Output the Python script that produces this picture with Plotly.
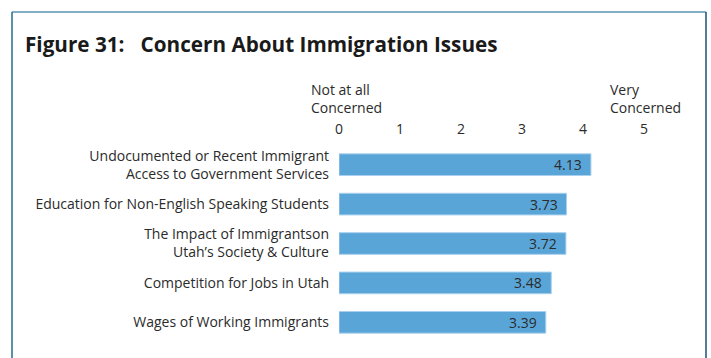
import plotly.graph_objects as go

# Survey items (top to bottom) and their mean concern scores (0-5 scale)
categories = [
    "Undocumented or Recent Immigrant<br>Access to Government Services",
    "Education for Non-English Speaking Students",
    "The Impact of Immigrantson<br>Utah\u2019s Society & Culture",
    "Competition for Jobs in Utah",
    "Wages of Working Immigrants",
]
scores = [4.13, 3.73, 3.72, 3.48, 3.39]
tick_values = [0, 1, 2, 3, 4, 5]
tick_labels = ["0", "1", "2", "3", "4", "5"]

W, H = 711, 358
ML, MR, MT, MB = 339, 0, 145, 16
FONT = "'Open Sans', Lato, sans-serif"
BAR = "#5aa5d8"
INK = "#2b2b2b"
FS = 14

px_per_unit = 61.0
x_max = (W - ML - MR) / px_per_unit


def px_x(p):
    return (p - ML) / (W - ML - MR)


def px_y(p):
    return 1 - (p - MT) / (H - MT - MB)


fig = go.Figure(
    go.Bar(
        x=scores,
        y=categories,
        orientation="h",
        marker=dict(color=BAR, line=dict(color="#a9d0ee", width=1)),
        width=0.55,
        hoverinfo="x+y",
    )
)

# Value labels just inside the bar ends
for cat, v in zip(categories, scores):
    fig.add_annotation(
        x=v, y=cat, xref="x", yref="y",
        text=f"{v:.2f}",
        xanchor="right", yanchor="middle",
        xshift=-7,
        showarrow=False,
        font=dict(family=FONT, size=FS, color=INK),
    )

fig.update_layout(
    width=W,
    height=H,
    margin=dict(l=ML, r=MR, t=MT, b=MB, pad=0),
    paper_bgcolor="white",
    plot_bgcolor="white",
    showlegend=False,
    bargap=0.45,
    font=dict(family=FONT, size=FS, color=INK),
    xaxis=dict(
        side="top",
        range=[0, x_max],
        tickvals=tick_values,
        ticktext=tick_labels,
        showgrid=False,
        zeroline=False,
        showline=False,
        ticks="",
        ticklabelstandoff=7,
        tickfont=dict(family=FONT, size=FS, color=INK),
    ),
    yaxis=dict(
        autorange="reversed",
        showgrid=False,
        zeroline=False,
        showline=False,
        ticks="",
        ticklabelstandoff=9,
        tickfont=dict(family=FONT, size=FS, color=INK),
    ),
)

# Title
fig.add_annotation(
    text="<b>Figure 31:   Concern About Immigration Issues</b>",
    xref="paper", yref="paper",
    x=px_x(23), y=px_y(44),
    xanchor="left", yanchor="middle",
    showarrow=False,
    font=dict(family=FONT, size=20.7, color="#1a1a1a"),
)

# Scale end descriptors
for label, left in [("Not at all<br>Concerned", 309), ("Very<br>Concerned", 608)]:
    fig.add_annotation(
        text=label,
        xref="paper", yref="paper",
        x=px_x(left), y=px_y(98),
        xanchor="left", yanchor="middle",
        align="left",
        showarrow=False,
        font=dict(family=FONT, size=FS, color=INK),
    )

# Frame around the figure
frame = [
    (12, 12, 706, 12, "#5a93b0"),
    (12, 12, 12, 358, "#1f6e8e"),
    (706, 12, 706, 358, "#1b4f7a"),
]
for x0, y0, x1, y1, c in frame:
    fig.add_shape(
        type="line", xref="paper", yref="paper",
        x0=px_x(x0), y0=px_y(y0), x1=px_x(x1), y1=px_y(y1),
        line=dict(color=c, width=1.5),
    )

fig.write_html("out.html")
